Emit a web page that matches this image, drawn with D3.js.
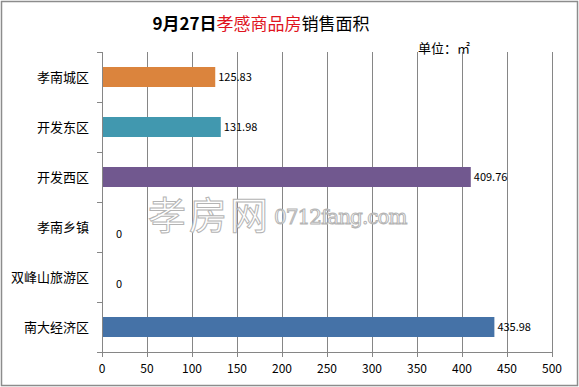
<!DOCTYPE html>
<html><head><meta charset="utf-8">
<script src="https://cdn.jsdelivr.net/npm/d3@7"></script>
<style>body{margin:0;background:#fff}svg{display:block}</style>
</head><body>
<script>
const categories = ["孝南城区","开发东区","开发西区","孝南乡镇","双峰山旅游区","南大经济区"];
const values = [125.83, 131.98, 409.76, 0, 0, 435.98];
const valueLabels = ["125.83","131.98","409.76","0","0","435.98"];
const colors = ["#DB843D","#4198AF","#71588F","#4572A7","#4572A7","#4572A7"];
const xTicks = [0,50,100,150,200,250,300,350,400,450,500];

const W=579,H=387;
const svg=d3.select("body").append("svg").attr("width",W).attr("height",H);
const font="'Noto Sans CJK SC','DejaVu Sans',sans-serif";
svg.append("rect").attr("x",1.5).attr("y",1.5).attr("width",W-3).attr("height",H-3)
  .attr("fill","#fff").attr("stroke","#8c8c8c").attr("stroke-width",1.5);

const L=102,R=552,T=52,B=352;
const x=d3.scaleLinear().domain([0,500]).range([L,R]);
const y=d3.scaleBand().domain(categories).range([T,B]).paddingInner(0.6).paddingOuter(0.3);
const yb=d3.scaleBand().domain(categories).range([T,B]);

// gridlines
svg.append("g").selectAll("line").data(xTicks.slice(1)).join("line")
  .attr("x1",d=>x(d)+0.5).attr("x2",d=>x(d)+0.5).attr("y1",T).attr("y2",B+5)
  .attr("stroke","#868686").attr("stroke-width",1);

// watermark
const wm=svg.append("g").attr("fill","#fff").attr("stroke","#b4b4b4").attr("stroke-width",1);
wm.append("text").attr("x",148).attr("y",229).attr("font-family",font).attr("font-size",38)
  .attr("letter-spacing",3).text("孝房网");
wm.append("text").attr("x",274).attr("y",224).attr("font-family","'DejaVu Serif',serif").attr("font-size",20)
  .attr("letter-spacing",-1).text("0712fang.com");

// bars
svg.append("g").selectAll("rect").data(categories).join("rect")
  .attr("x",x(0)).attr("y",d=>y(d)).attr("height",y.bandwidth())
  .attr("width",(d,i)=>x(values[i])-x(0)).attr("fill",(d,i)=>colors[i]);

// value labels
svg.append("g").selectAll("text").data(categories).join("text")
  .attr("x",(d,i)=>x(values[i])+(values[i]>0?3:14)).attr("y",(d,i)=>y(d)+y.bandwidth()/2+(values[i]>0?4:11))
  .attr("font-family",font).attr("font-size",11).attr("fill","#000").text((d,i)=>valueLabels[i]);

// left axis
const ax=svg.append("g").attr("stroke","#868686");
ax.append("line").attr("x1",L+0.5).attr("x2",L+0.5).attr("y1",T).attr("y2",B);
ax.selectAll(".t").data(d3.range(categories.length+1)).join("line")
  .attr("x1",L-5).attr("x2",L).attr("y1",i=>T+i*yb.step()+0.5).attr("y2",i=>T+i*yb.step()+0.5);
// bottom axis
ax.append("line").attr("x1",L-5).attr("x2",R).attr("y1",B+0.5).attr("y2",B+0.5);
ax.append("line").attr("x1",L+0.5).attr("x2",L+0.5).attr("y1",B).attr("y2",B+5);

svg.append("g").selectAll("text").data(categories).join("text")
  .attr("x",89).attr("y",d=>yb(d)+yb.bandwidth()/2+5).attr("text-anchor","end")
  .attr("font-family",font).attr("font-size",13).attr("fill","#000").text(d=>d);

svg.append("g").selectAll("text").data(xTicks).join("text")
  .attr("x",d=>x(d)).attr("y",373).attr("text-anchor","middle")
  .attr("font-family",font).attr("font-size",12).attr("fill","#000").text(d=>d);

// title
const t=svg.append("text").attr("x",261).attr("y",30).attr("text-anchor","middle")
  .attr("font-family",font).attr("font-size",17).attr("font-weight","bold");
t.append("tspan").attr("fill","#000").text("9月27日");
t.append("tspan").attr("fill","#e0141e").attr("font-weight","normal").text("孝感商品房");
t.append("tspan").attr("fill","#000").attr("font-weight","normal").text("销售面积");

svg.append("text").attr("x",418).attr("y",53).attr("font-family",font).attr("font-size",13)
  .attr("fill","#000").text("单位：㎡");
</script>
</body></html>
